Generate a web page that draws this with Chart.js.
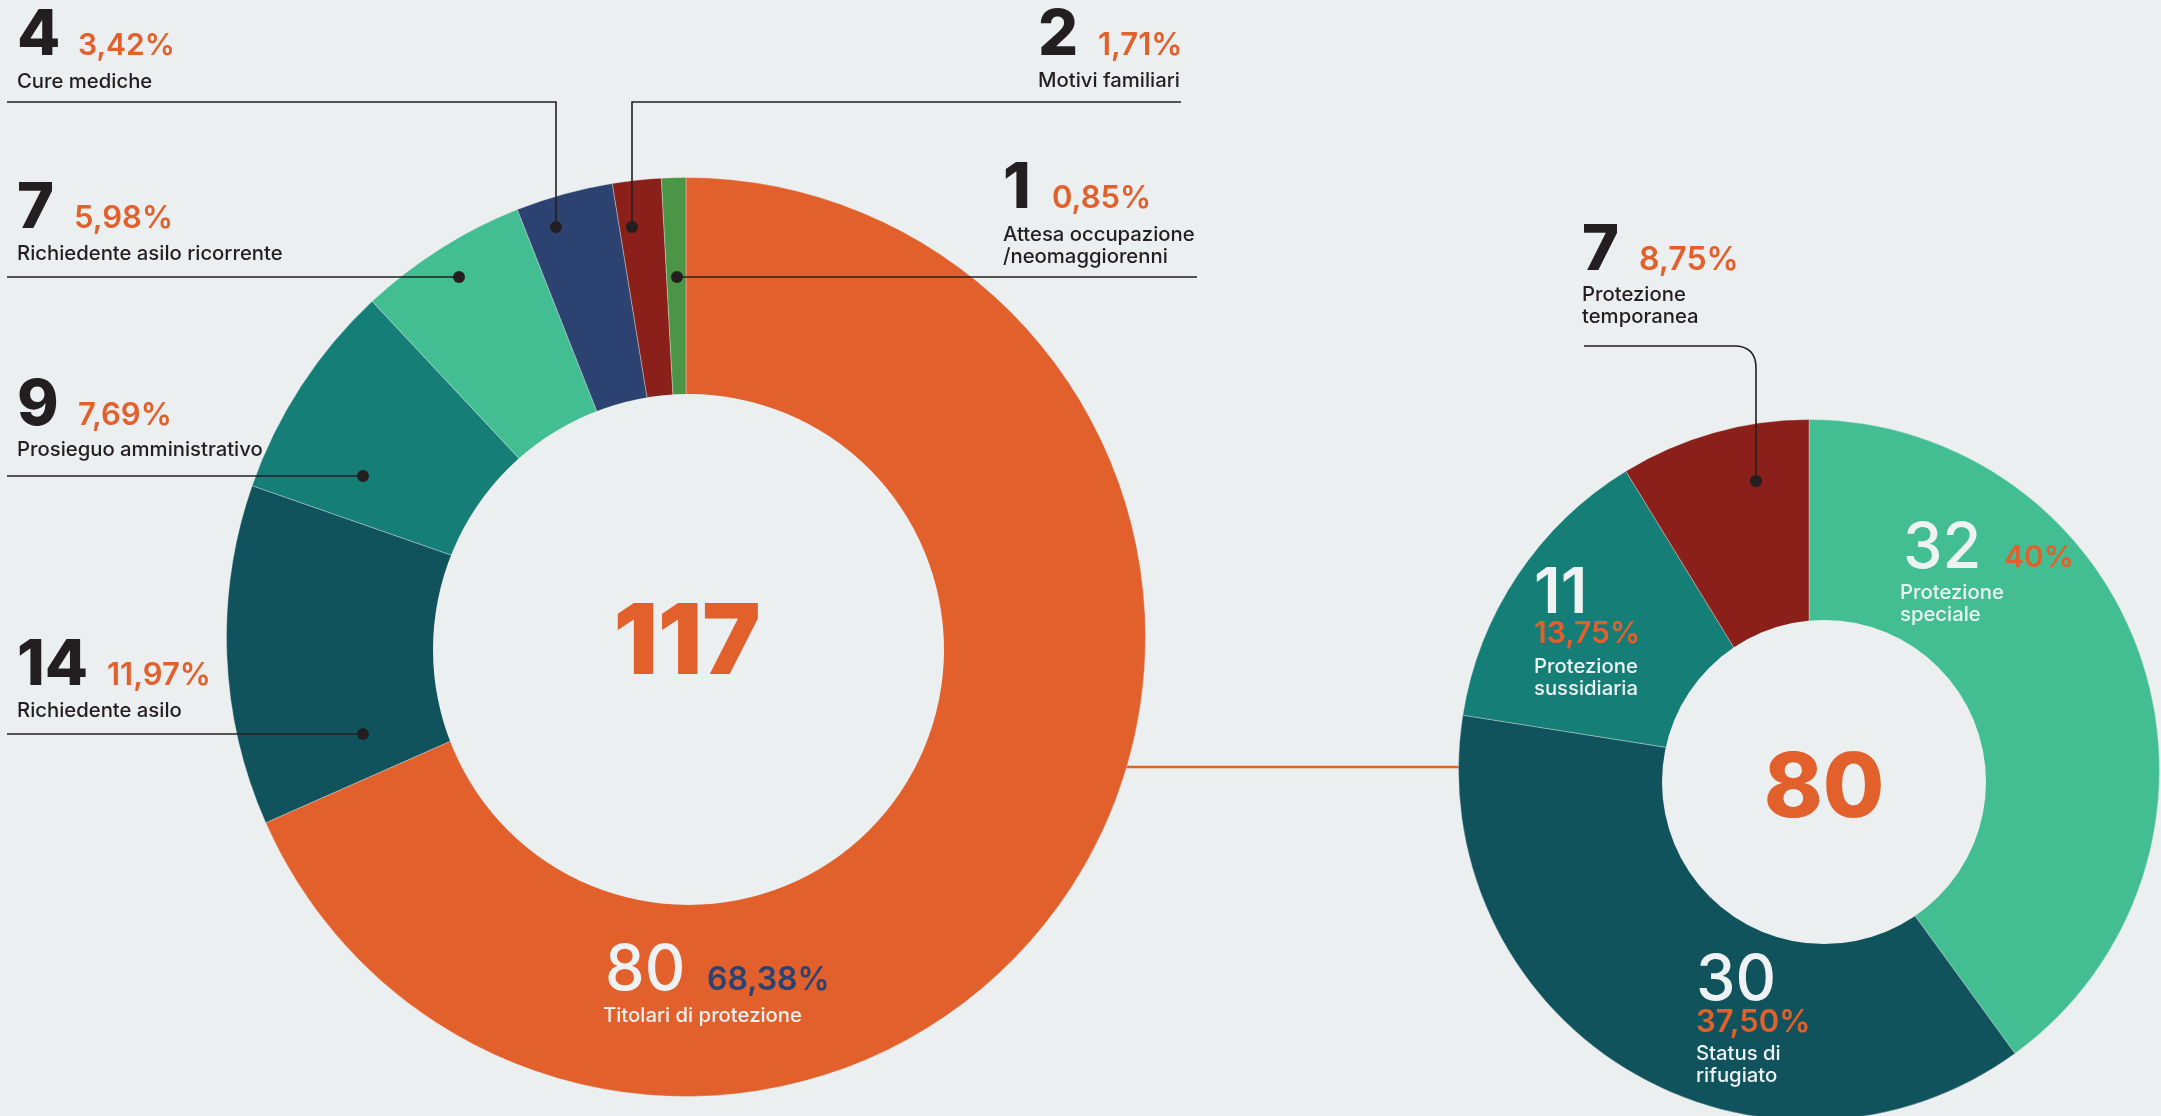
<!DOCTYPE html>
<html>
<head>
<meta charset="utf-8">
<script src="https://cdn.jsdelivr.net/npm/chart.js@4/dist/chart.umd.min.js"></script>
<style>
  html, body { margin: 0; padding: 0; }
  body { width: 2161px; height: 1116px; overflow: hidden; background: #EBEFEF; position: relative; font-family: Inter, 'Noto Sans', sans-serif; }
  canvas { position: absolute; }
  svg { position: absolute; left: 0; top: 0; }
</style>
</head>
<body>
<svg id="under" width="2161" height="1116"></svg>
<canvas id="leftChart" width="920" height="920" style="left:226px;top:177px"></canvas>
<canvas id="rightChart" width="702" height="702" style="left:1458px;top:419px"></canvas>
<svg id="over" width="2161" height="1116"></svg>
<script>
const leftLabels = ['Titolari di protezione', 'Richiedente asilo', 'Prosieguo amministrativo', 'Richiedente asilo ricorrente', 'Cure mediche', 'Motivi familiari', ['Attesa occupazione', '/neomaggiorenni']];
const leftValues = [80, 14, 9, 7, 4, 2, 1];
const leftPct = ['68,38%', '11,97%', '7,69%', '5,98%', '3,42%', '1,71%', '0,85%'];
const leftColors = ['#E2602C', '#11535D', '#157E77', '#43BE92', '#2C4371', '#8A2019', '#4A9646'];

const rightLabels = [['Protezione', 'speciale'], ['Status di', 'rifugiato'], ['Protezione', 'sussidiaria'], ['Protezione', 'temporanea']];
const rightValues = [32, 30, 11, 7];
const rightPct = ['40%', '37,50%', '13,75%', '8,75%'];
const rightColors = ['#43BE92', '#11535D', '#157E77', '#8A2019'];

const BG = '#EBEFEF', ORANGE = '#E2602C', INK = '#231F20', LIGHT = '#EEF2F2', NAVY = '#2C4371';

// the hole of each ring sits a little below the ring's centre
const holePlugin = {
  id: 'hole',
  afterDatasetsDraw(chart, args, opts) {
    const arc = chart.getDatasetMeta(0).data[0];
    if (!arc) return;
    const ctx = chart.ctx;
    ctx.save();
    ctx.beginPath();
    ctx.arc(arc.x + opts.dx, arc.y + opts.dy, opts.r, 0, Math.PI * 2);
    ctx.fillStyle = BG;
    ctx.fill();
    ctx.restore();
  }
};

function donut(id, labels, values, colors, cutout, hole) {
  return new Chart(document.getElementById(id), {
    type: 'doughnut',
    data: {
      labels: labels,
      datasets: [{
        data: values,
        backgroundColor: colors,
        borderColor: 'rgba(235,239,239,0.35)',
        borderWidth: 1
      }]
    },
    options: {
      responsive: false,
      animation: false,
      cutout: cutout,
      layout: { padding: 0 },
      plugins: { legend: { display: false }, tooltip: { enabled: false }, hole: hole }
    },
    plugins: [holePlugin]
  });
}

donut('leftChart', leftLabels, leftValues, leftColors, 235, { dx: 2.5, dy: 12.5, r: 255.5 });
donut('rightChart', rightLabels, rightValues, rightColors, 140, { dx: 15, dy: 12, r: 162 });

const NS = 'http://www.w3.org/2000/svg';
const over = document.getElementById('over');
const under = document.getElementById('under');

function el(svg, tag, attrs, text) {
  const e = document.createElementNS(NS, tag);
  for (const k in attrs) e.setAttribute(k, attrs[k]);
  if (text !== undefined) e.textContent = text;
  svg.appendChild(e);
  return e;
}
function txt(x, y, s, size, weight, color, anchor) {
  return el(over, 'text', { x: x, y: y, 'font-size': size, 'font-weight': weight, fill: color, 'text-anchor': anchor || 'start', 'font-family': 'Inter, sans-serif' }, s);
}

// label blocks: [index, numX, baseline, pctX, pctBaseline, labelX, labelBaseline, numColor, pctColor, labelColor, numWeight]
const leftNotes = [
  [0, 605, 990, 707, 990, 603, 1022, LIGHT, NAVY, LIGHT, 500],
  [1, 17, 685, 107, 685, 17, 717, INK, ORANGE, INK, 800],
  [2, 17, 425, 78, 425, 17, 456, INK, ORANGE, INK, 800],
  [3, 17, 228, 74, 228, 17, 260, INK, ORANGE, INK, 800],
  [4, 17, 55, 78, 55, 17, 88, INK, ORANGE, INK, 800],
  [5, 1038, 55, 1098, 55, 1038, 87, INK, ORANGE, INK, 800],
  [6, 1003, 208, 1052, 208, 1003, 241, INK, ORANGE, INK, 800]
];
const rightNotes = [
  [0, 1903, 568, 2004, 567, 1900, 599, LIGHT, ORANGE, LIGHT, 500],
  [1, 1696, 1000, 1696, 1032, 1696, 1060, LIGHT, ORANGE, LIGHT, 500],
  [2, 1534, 613, 1534, 643, 1534, 673, LIGHT, ORANGE, LIGHT, 600],
  [3, 1582, 270, 1639, 270, 1582, 301, INK, ORANGE, INK, 800]
];

function notes(list, labels, values, pcts, numSize, pctSizes) {
  list.forEach(n => {
    const [i, nx, nb, px, pb, lx, lb, nc, pc, lc, w] = n;
    txt(nx, nb, String(values[i]), numSize, w, nc);
    txt(px, pb, pcts[i], pctSizes[i], 600, pc);
    const lines = Array.isArray(labels[i]) ? labels[i] : [labels[i]];
    lines.forEach((line, k) => txt(lx, lb + k * 22, line, 20.3, 500, lc));
  });
}
notes(leftNotes, leftLabels, leftValues, leftPct, 63, [32, 31, 31, 31, 30, 31, 31]);
notes(rightNotes, rightLabels, rightValues, rightPct, 63, [30, 31, 30, 32]);

// totals in the holes
const sum = a => a.reduce((s, v) => s + v, 0);
txt(687, 674, String(sum(leftValues)), 98, 900, ORANGE, 'middle');
txt(1824, 817, String(sum(rightValues)), 89, 800, ORANGE, 'middle');

// leader lines
const leaders = [
  'M7,102 H556 V227',
  'M1181,102 H632 V227',
  'M1197,277 H677',
  'M7,277 H459',
  'M7,476 H363',
  'M7,734 H363',
  'M1584,346 H1734 Q1756,346 1756,368 V481'
];
const dots = [[556, 227], [632, 227], [677, 277], [459, 277], [363, 476], [363, 734], [1756, 481]];
leaders.forEach(d => el(over, 'path', { d: d, fill: 'none', stroke: INK, 'stroke-width': 1.6 }));
dots.forEach(([x, y]) => el(over, 'circle', { cx: x, cy: y, r: 6, fill: INK }));

// connector between the two rings
el(under, 'line', { x1: 1120, y1: 767, x2: 1470, y2: 767, stroke: ORANGE, 'stroke-width': 2.6 });
</script>
</body>
</html>
